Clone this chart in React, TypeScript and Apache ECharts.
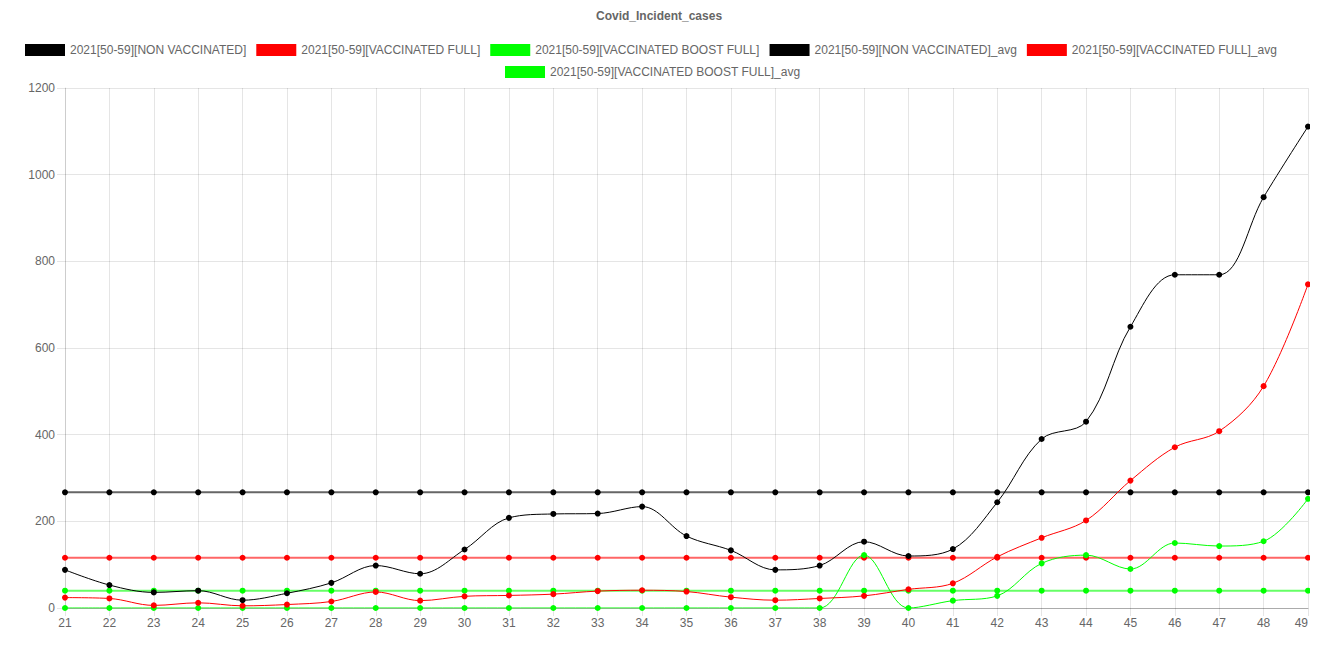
import React, { useEffect, useRef } from "react";
import * as echarts from "echarts";

const weeks = ["21","22","23","24","25","26","27","28","29","30","31","32","33","34","35","36","37","38","39","40","41","42","43","44","45","46","47","48","49"];

const nonVaccinated = [88,53,36,40,18,34,58,98,79,135,208,217,218,234,166,133,88,98,153,120,136,244,390,430,649,769,769,948,1111];
const vaccinatedFull = [24,22,6,12,5,8,15,37,17,27,29,32,39,41,38,25,18,22,28,43,57,118,162,202,294,371,408,512,747];
const vaccinatedBoost = [0,0,0,0,0,0,0,0,0,0,0,0,0,0,0,0,0,0,122,0,17,28,103,122,90,150,143,154,252];

const nonVaccinatedAvg = [267,267,267,267,267,267,267,267,267,267,267,267,267,267,267,267,267,267,267,267,267,267,267,267,267,267,267,267,267];
const vaccinatedFullAvg = [116,116,116,116,116,116,116,116,116,116,116,116,116,116,116,116,116,116,116,116,116,116,116,116,116,116,116,116,116];
const vaccinatedBoostAvg = [40,40,40,40,40,40,40,40,40,40,40,40,40,40,40,40,40,40,40,40,40,40,40,40,40,40,40,40,40];

const seriesNames = [
  "2021[50-59][NON VACCINATED]",
  "2021[50-59][VACCINATED FULL]",
  "2021[50-59][VACCINATED BOOST FULL]",
  "2021[50-59][NON VACCINATED]_avg",
  "2021[50-59][VACCINATED FULL]_avg",
  "2021[50-59][VACCINATED BOOST FULL]_avg",
];
const colors = ["#000000", "#ff0000", "#00ff00", "#000000", "#ff0000", "#00ff00"];

export default function App() {
  const ref = useRef<HTMLDivElement>(null);
  useEffect(() => {
    if (!ref.current) return;
    const chart = echarts.init(ref.current, undefined, { renderer: "svg" });
    const data = [nonVaccinated, vaccinatedFull, vaccinatedBoost, nonVaccinatedAvg, vaccinatedFullAvg, vaccinatedBoostAvg];
    const series = data.map((d, i) => {
      const isAvg = i >= 3;
      return {
        name: seriesNames[i],
        type: "line",
        data: d,
        smooth: isAvg ? false : 0.35,
        symbol: "circle",
        symbolSize: 6,
        showSymbol: true,
        z: 10 - i,
        itemStyle: { color: colors[i] },
        lineStyle: { color: colors[i], width: isAvg ? 2 : 1, opacity: isAvg ? 0.6 : 1 },
      };
    });
    const legendBase = {
      padding: 0,
      itemWidth: 40,
      itemHeight: 12,
      itemGap: 10,
      icon: "rect",
      textStyle: { fontSize: 12, color: "#666" },
    };
    chart.setOption({
      animation: false,
      textStyle: { fontFamily: "Liberation Sans, Arial, sans-serif" },
      title: {
        text: "Covid_Incident_cases",
        left: 588,
        top: 2,
        padding: 0,
        textStyle: { fontSize: 12, fontWeight: "bold", color: "#666" },
      },
      legend: [
        {
          ...legendBase,
          left: 17,
          top: 36,
          data: seriesNames.slice(0, 5).map((n, i) => ({ name: n, itemStyle: { color: colors[i] } })),
        },
        {
          ...legendBase,
          left: 497,
          top: 58,
          data: seriesNames.slice(5).map((n, i) => ({ name: n, itemStyle: { color: colors[i + 5] } })),
        },
      ],
      grid: { left: 57, right: 10, top: 80, bottom: 43, containLabel: false, outerBoundsMode: "none" },
      xAxis: {
        type: "category",
        data: weeks,
        boundaryGap: false,
        axisLine: { show: true, lineStyle: { color: "rgba(0,0,0,0.25)" } },
        axisTick: { show: true, alignWithLabel: true, length: 8, lineStyle: { color: "rgba(0,0,0,0.1)" } },
        axisLabel: { color: "#666", fontSize: 12, margin: 9, alignMaxLabel: "right" },
        splitLine: { show: true, lineStyle: { color: "rgba(0,0,0,0.1)" } },
      },
      yAxis: {
        type: "value",
        min: 0,
        max: 1200,
        interval: 200,
        axisLine: { show: true, lineStyle: { color: "rgba(0,0,0,0.1)" } },
        axisTick: { show: true, length: 8, lineStyle: { color: "rgba(0,0,0,0.1)" } },
        axisLabel: { color: "#666", fontSize: 12, margin: 10, formatter: (v: number) => String(v) },
        splitLine: { show: true, lineStyle: { color: "rgba(0,0,0,0.1)" } },
      },
      series,
    });
    return () => chart.dispose();
  }, []);
  return <div ref={ref} style={{ width: 1310, height: 643 }} />;
}
